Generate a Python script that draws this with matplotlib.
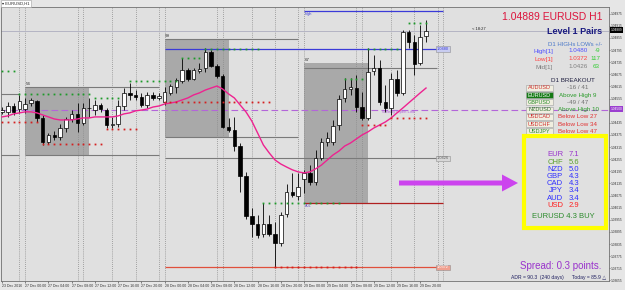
import matplotlib
matplotlib.use("Agg")
import matplotlib.pyplot as plt
from matplotlib.patches import Rectangle, FancyArrow

W, H = 625, 290

# H1 candles, bar 0 = 23 Dec 2016 (last bars of the week), bar 4 = 27 Dec 00:00
opens = [1.04489, 1.04489, 1.04518, 1.04503, 1.04503, 1.04533, 1.04543, 1.04459, 1.04340, 1.04375,
         1.04365, 1.04409, 1.04454, 1.04479, 1.04434, 1.04508, 1.04498, 1.04523, 1.04498, 1.04424,
         1.04429, 1.04518, 1.04583, 1.04573, 1.04563, 1.04523, 1.04573, 1.04558, 1.04538, 1.04583,
         1.04612, 1.04642, 1.04696, 1.04652, 1.04692, 1.04706, 1.04786, 1.04716, 1.04667, 1.04414,
         1.04399, 1.04320, 1.04172, 1.03974, 1.03934, 1.03885, 1.03934, 1.03885, 1.03840, 1.03984,
         1.04093, 1.04073, 1.04157, 1.04187, 1.04142, 1.04261, 1.04340, 1.04340, 1.04424, 1.04558,
         1.04602, 1.04607, 1.04513, 1.04459, 1.04692, 1.04706, 1.04538, 1.04508, 1.04652, 1.04583,
         1.04885, 1.04835, 1.04731, 1.04865]
highs = [1.04513, 1.04538, 1.04533, 1.04573, 1.04558, 1.04558, 1.04548, 1.04474, 1.04385, 1.04395,
         1.04429, 1.04464, 1.04498, 1.04533, 1.04533, 1.04558, 1.04548, 1.04533, 1.04508, 1.04464,
         1.04548, 1.04607, 1.04632, 1.04597, 1.04583, 1.04588, 1.04588, 1.04583, 1.04612, 1.04627,
         1.04657, 1.04756, 1.04706, 1.04706, 1.04731, 1.04805, 1.04795, 1.04726, 1.04677, 1.04459,
         1.04464, 1.04335, 1.04192, 1.04013, 1.03979, 1.04038, 1.03979, 1.03944, 1.03994, 1.04132,
         1.04187, 1.04187, 1.04202, 1.04226, 1.04300, 1.04360, 1.04390, 1.04449, 1.04573, 1.04657,
         1.04657, 1.04672, 1.04588, 1.04805, 1.04771, 1.04746, 1.04622, 1.04682, 1.04696, 1.04894,
         1.04894, 1.04870, 1.04919, 1.04944]
lows = [1.04479, 1.04464, 1.04474, 1.04484, 1.04484, 1.04518, 1.04439, 1.04325, 1.04330, 1.04350,
        1.04350, 1.04390, 1.04439, 1.04390, 1.04424, 1.04464, 1.04474, 1.04489, 1.04409, 1.04409,
        1.04414, 1.04498, 1.04548, 1.04548, 1.04513, 1.04508, 1.04548, 1.04548, 1.04523, 1.04573,
        1.04583, 1.04632, 1.04642, 1.04647, 1.04682, 1.04687, 1.04711, 1.04657, 1.04409, 1.04390,
        1.04295, 1.04093, 1.03959, 1.03870, 1.03865, 1.03870, 1.03875, 1.03721, 1.03825, 1.03969,
        1.04068, 1.04053, 1.04088, 1.04127, 1.04127, 1.04251, 1.04320, 1.04325, 1.04399, 1.04538,
        1.04573, 1.04489, 1.04449, 1.04449, 1.04672, 1.04523, 1.04489, 1.04474, 1.04568, 1.04573,
        1.04805, 1.04672, 1.04721, 1.04835]
closes = [1.04498, 1.04518, 1.04489, 1.04543, 1.04528, 1.04548, 1.04459, 1.04340, 1.04375, 1.04365,
          1.04409, 1.04454, 1.04479, 1.04434, 1.04508, 1.04506, 1.04523, 1.04503, 1.04424, 1.04429,
          1.04518, 1.04583, 1.04573, 1.04563, 1.04523, 1.04573, 1.04558, 1.04568, 1.04588, 1.04617,
          1.04647, 1.04696, 1.04652, 1.04696, 1.04701, 1.04786, 1.04716, 1.04667, 1.04414, 1.04399,
          1.04320, 1.04172, 1.03974, 1.03934, 1.03880, 1.03934, 1.03885, 1.03840, 1.03979, 1.04093,
          1.04078, 1.04117, 1.04187, 1.04142, 1.04261, 1.04340, 1.04360, 1.04419, 1.04553, 1.04602,
          1.04612, 1.04513, 1.04459, 1.04687, 1.04706, 1.04538, 1.04508, 1.04652, 1.04583, 1.04885,
          1.04835, 1.04726, 1.04860, 1.04890]

# pink moving average, one value per bar
ma = [1.04464, 1.04469, 1.04479, 1.04484, 1.04489, 1.04489, 1.04484, 1.04474, 1.04464, 1.04454,
      1.04449, 1.04449, 1.04449, 1.04454, 1.04459, 1.04459, 1.04464, 1.04464, 1.04464, 1.04464,
      1.04469, 1.04479, 1.04484, 1.04494, 1.04498, 1.04503, 1.04513, 1.04518, 1.04528, 1.04533,
      1.04538, 1.04548, 1.04558, 1.04573, 1.04583, 1.04597, 1.04607, 1.04617, 1.04602, 1.04578,
      1.04558, 1.04523, 1.04489, 1.04444, 1.04385, 1.04325, 1.04286, 1.04251, 1.04231, 1.04216,
      1.04202, 1.04192, 1.04187, 1.04192, 1.04207, 1.04226, 1.04251, 1.04276, 1.04295, 1.04320,
      1.04335, 1.04355, 1.04375, 1.04390, 1.04409, 1.04424, 1.04439, 1.04459, 1.04484, 1.04508,
      1.04533, 1.04558, 1.04583, 1.04607]

# dotted session high / low markers: (first bar, last bar, price)
green_dots = [(0, 2, 1.04692), (3, 15, 1.04578), (16, 20, 1.04558), (22, 30, 1.04642),
              (31, 34, 1.04756), (35, 44, 1.04800), (45, 58, 1.04038), (59, 62, 1.04652),
              (63, 68, 1.04800), (70, 73, 1.04929)]
red_dots = [(0, 6, 1.04439), (7, 17, 1.04330), (18, 23, 1.04404), (28, 46, 1.04538),
            (47, 61, 1.03721), (62, 66, 1.04424), (67, 73, 1.04459)]

# shaded session boxes: (first bar, last bar, low, high, label)
boxes = [(4, 15, 1.04276, 1.04612, "54"), (28, 39, 1.04365, 1.04850, "99"),
         (52, 63, 1.04038, 1.04731, "67")]

session_lines = [3, 4, 13, 14, 19, 23, 27, 28, 37, 38, 43, 47, 51, 52, 61, 62, 67, 71, 75, 76]

time_pos = [0, 4, 8, 12, 16, 20, 24, 28, 32, 36, 40, 44, 48, 52, 56, 60, 64, 68, 72]
time_labels = ["23 Dec 2016", "27 Dec 00:00", "27 Dec 04:00", "27 Dec 08:00", "27 Dec 12:00",
               "27 Dec 16:00", "27 Dec 20:00", "28 Dec 00:00", "28 Dec 04:00", "28 Dec 08:00",
               "28 Dec 12:00", "28 Dec 16:00", "28 Dec 20:00", "29 Dec 00:00", "29 Dec 04:00",
               "29 Dec 08:00", "29 Dec 12:00", "29 Dec 16:00", "29 Dec 20:00"]

d1_high, d1_low, d1_mid = 1.0480, 1.0372, 1.0426
weekly_open = 1.0450
bid = 1.04889
week_high = 1.04988

pairs = ["AUDUSD", "EURUSD", "GBPUSD", "NZDUSD", "USDCAD", "USDCHF", "USDJPY"]
pair_status = ["-16 / 41", "Above High 9", "-49 / 47", "Above High 10",
               "Below Low 27", "Below Low 34", "Below Low 47"]
currencies = ["EUR", "CHF", "NZD", "GBP", "CAD", "JPY", "AUD", "USD"]
strength = [7.1, 5.6, 5.0, 4.3, 4.3, 3.4, 3.4, 2.9]


def px(x, y):
    return x / W, 1 - y / H


ff = ['Liberation Sans', 'DejaVu Sans']
plt.rcParams['font.family'] = ff

fig = plt.figure(figsize=(6.25, 2.9), dpi=100)
fig.patch.set_facecolor('#e6e6e6')
ax = fig.add_axes([1 / W, 9 / H, 608 / W, 274 / H])
ax.set_facecolor('#e0e0e0')
ax.set_xlim(-0.17, 104.5)
ax.set_ylim(1.03652, 1.05008)
for s in ax.spines.values():
    s.set_color('#707070')
    s.set_linewidth(0.6)

# boxes and their extension lines
for a, b, lo, hi, lab in boxes:
    ax.add_patch(Rectangle((a, lo), b - a, hi - lo, fc='#a9a9a9', ec='none', zorder=1))
    ax.text(a + 0.1, hi + 0.00004, lab, fontsize=3.2, color='#303030', va='bottom', zorder=2)
ax.hlines([1.04612, 1.04276], 4, 27, color='#7a7a7a', lw=0.8, zorder=1.5)
ax.hlines([1.04578, 1.04276], -0.2, 3, color='#7a7a7a', lw=0.8, zorder=1.5)
ax.hlines([1.04850, 1.04365], 28, 51, color='#7a7a7a', lw=0.8, zorder=1.5)
ax.hlines([1.04706], 52, 74.9, color='#7a7a7a', lw=0.8, zorder=1.5)
ax.hlines([d1_mid], 28, 74.9, color='#7a7a7a', lw=0.8, zorder=1.5)

for k in session_lines:
    ax.axvline(k, color='#8c8c8c', ls=(0, (1, 1.5)), lw=0.6, zorder=1.2)

ax.axhline(bid, color='#b4b4c4', lw=0.7, zorder=1.3)
ax.axhline(weekly_open, color='#b366d9', ls=(0, (6, 3)), lw=0.8, zorder=1.3)
ax.hlines(week_high, 52, 75.9, color='#3a3ad8', lw=0.9, zorder=2)
ax.hlines(d1_high, 28, 74.9, color='#3a3ad8', lw=0.9, zorder=2)
ax.hlines(d1_low, 28, 74.9, color='#e0503c', lw=0.9, zorder=2)
ax.hlines(1.04038, 52, 75.9, color='#b02020', lw=0.9, zorder=2)
ax.text(52.1, week_high - 0.00005, "High", fontsize=2.6, color='#3a3ad8', va='top')
ax.text(52.1, 1.04038 - 0.00004, "ADL", fontsize=2.6, color='#7060c0', va='top')
ax.text(65.5, weekly_open - 0.00003, "Weekly Open Line", fontsize=3, color='#b366d9', va='top')
ax.text(81, bid + 0.00002, "< 18:27", fontsize=3, color='#202020', va='bottom')

for val, fc, tc in [(d1_high, '#c8ccf0', '#3a3ad8'), (d1_mid, '#d8d8d8', '#606060'),
                    (d1_low, '#f0a090', '#ffffff')]:
    ax.text(74.9, val, "%.4f" % val, fontsize=2.8, color=tc, va='center', ha='left',
            bbox=dict(boxstyle='square,pad=0.15', fc=fc, ec='#909090', lw=0.4), zorder=6)

# dots
for a, b, p in green_dots:
    xs = list(range(a, b + 1))
    ax.plot(xs, [p] * len(xs), 's', ms=1.3, color='#1d9a2a', mec='none', zorder=6)
for a, b, p in red_dots:
    xs = list(range(a, b + 1))
    ax.plot(xs, [p] * len(xs), 's', ms=1.3, color='#d42020', mec='none', zorder=6)

# candles
for i in range(len(opens)):
    o, h, l, c = opens[i], highs[i], lows[i], closes[i]
    ax.vlines(i, l, h, color='black', lw=0.6, zorder=4)
    fc = 'white' if c >= o else 'black'
    ax.add_patch(Rectangle((i - 0.3, min(o, c)), 0.6, max(abs(c - o), 0.00002),
                           fc=fc, ec='black', lw=0.5, zorder=5))

ax.plot(range(len(ma)), ma, color='#ee2290', lw=1.0, zorder=5.5)

# axes ticks
ax.yaxis.tick_right()
yt = [1.04975 - 0.0006 * n for n in range(23)]
yt = [v for v in yt if abs(v - weekly_open) > 0.0002 and abs(v - bid) > 0.0002]
ax.set_yticks(yt)
ax.set_yticklabels(["%.5f" % v for v in yt])
ax.tick_params(axis='y', labelsize=2.3, length=1, width=0.4, pad=0.5, colors='#303030')
ax.set_xticks(time_pos)
ax.set_xticklabels(time_labels)
ax.tick_params(axis='x', labelsize=2.5, length=1.5, width=0.4, pad=0.8, colors='#303030')
for lbl in ax.get_xticklabels():
    lbl.set_ha('left')

fig.text(*px(610.5, 30), "1.04889", fontsize=2.3, color='white', va='center',
         bbox=dict(boxstyle='square,pad=0.2', fc='black', ec='none'))
fig.text(*px(610.5, 109), "1.04500", fontsize=2.3, color='white', va='center',
         bbox=dict(boxstyle='square,pad=0.2', fc='#9b3fd0', ec='none'))
fig.text(*px(2, 3.5), "▾ EURUSD,H1", fontsize=3, color='#202020', va='center',
         bbox=dict(boxstyle='square,pad=0.25', fc='white', ec='#a0a0a0', lw=0.4))

# right panel
fig.text(*px(602, 17), "1.04889 EURUSD H1", fontsize=7.5, color='#dc143c', ha='right',
         va='center')
fig.text(*px(602, 32), "Level 1 Pairs", fontsize=6.5, color='#1a1a80', ha='right',
         va='center', weight='bold')
fig.text(*px(575, 44), "D1 HIGHs LOWs +/-", fontsize=4.3, color='#4a78c8', ha='center',
         va='center')
rows = [("High[1]", d1_high, "-9", '#5050ff'), ("Low[1]", d1_low, "117", '#ff4040'),
        ("Mid[1]", d1_mid, "63", '#808080')]
for j, (name, val, diff, col) in enumerate(rows):
    y = 51 + 8 * j
    fig.text(*px(553, y), name, fontsize=4.5, color=col, ha='right', va='center')
    fig.text(*px(568, y), "%.4f" % val, fontsize=4.5, color=col, ha='left', va='center')
    fig.text(*px(600, y), diff, fontsize=4.5, color='#33cc33', ha='right', va='center')
fig.text(*px(573, 81), "D1 BREAKOUT", fontsize=4.5, color='#202040', ha='center', va='center')
btn_col = ['#d03030', '#ffffff', '#2a8a2a', '#2a6a2a', '#d03030', '#d03030', '#2a8a2a']
st_col = ['#707070', '#2a9a2a', '#707070', '#2a9a2a', '#e03030', '#e03030', '#e03030']
for j, p in enumerate(pairs):
    y = 88 + 7.2 * j
    bg = '#157a15' if p == "EURUSD" else '#f0eee0'
    fig.patches.append(Rectangle(px(526, y + 3), 27 / W, 6 / H, fc=bg, ec='#a0a0a0', lw=0.4,
                                 transform=fig.transFigure, figure=fig))
    fig.text(*px(539.5, y), p, fontsize=4, color=btn_col[j], ha='center', va='center')
    fig.text(*px(578, y), pair_status[j], fontsize=4.5, color=st_col[j], ha='center',
             va='center')

fig.patches.append(Rectangle(px(524, 228), 82 / W, 92 / H, fc='none', ec='#ffff00', lw=3,
                             transform=fig.transFigure, figure=fig))
cur_col = ['#9932cc', '#5aa02c', '#3030ff', '#3030ff', '#3030ff', '#3030ff', '#3030ff', '#ff2020']
for j, (cname, sv) in enumerate(zip(currencies, strength)):
    y = 155 + 7.2 * j
    fig.text(*px(563, y), cname, fontsize=5.5, color=cur_col[j], ha='right', va='center')
    fig.text(*px(569, y), "%.1f" % sv, fontsize=5.5, color=cur_col[j], ha='left', va='center')
fig.text(*px(563, 217), "EURUSD 4.3 BUY", fontsize=5.5, color='#2a8a2a', ha='center',
         va='center')

fig.patches.append(FancyArrow(399 / W, 1 - 183 / H, 119 / W, 0, width=5 / H,
                              head_width=17 / H, head_length=16 / W, length_includes_head=True,
                              fc='#cc44ee', ec='none', transform=fig.transFigure, figure=fig))

fig.text(*px(561, 266), "Spread: 0.3 points.", fontsize=7, color='#9932cc', ha='center',
         va='center')
fig.text(*px(606, 277), "ADR = 90.3  (240 days)      Today = 85.9 △", fontsize=3.6,
         color='#202060', ha='right', va='center')

fig.savefig("out.png", dpi=100, facecolor=fig.get_facecolor())
